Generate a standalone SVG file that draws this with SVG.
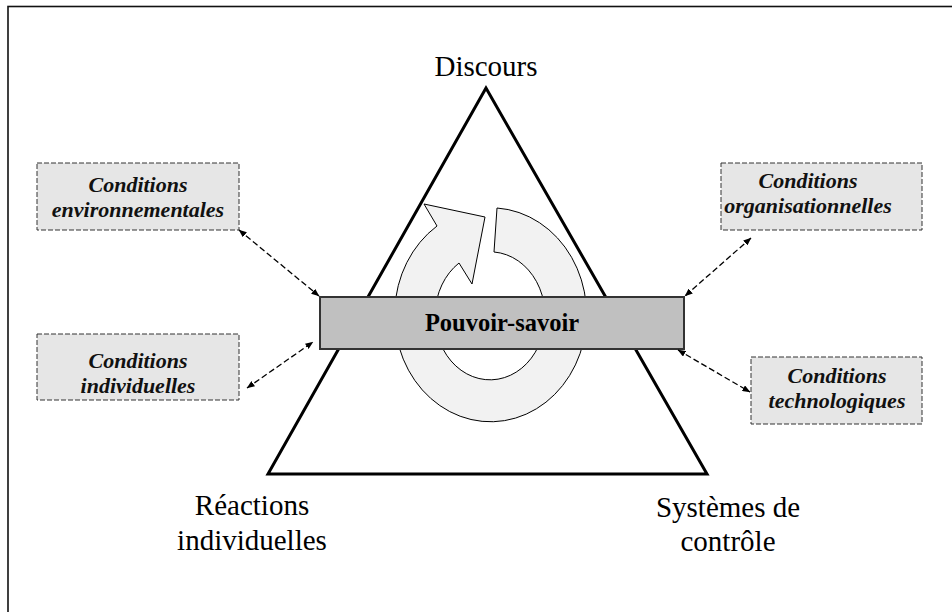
<svg xmlns="http://www.w3.org/2000/svg" width="952" height="612" viewBox="0 0 952 612">
<defs>
<style>
.lbl{font-family:"Liberation Serif","Times New Roman",serif;font-size:29px;fill:#000;text-anchor:middle}
.cond{font-family:"Liberation Serif","Times New Roman",serif;font-size:22px;font-weight:bold;font-style:italic;fill:#111;text-anchor:middle}
.cbox{fill:#e6e6e6;stroke:#333;stroke-width:1;stroke-dasharray:5 2}
.conn{fill:none;stroke:#000;stroke-width:1.3;stroke-dasharray:6 3;marker-start:url(#ah);marker-end:url(#ah)}
</style>
<marker id="ah" viewBox="0 0 10 8" refX="9.5" refY="4" markerWidth="8" markerHeight="6.4" markerUnits="userSpaceOnUse" orient="auto-start-reverse">
<path d="M0,0 L10,4 L0,8 Z" fill="#000"/>
</marker>
</defs>
<rect width="952" height="612" fill="#fff"/>
<rect x="8" y="6.5" width="1000" height="1000" fill="none" stroke="#111" stroke-width="1.6"/>

<g id="cycle">
<path d="M497,208 A96,107 0 1 1 437,226 L424,204 L485,217 L472,284 L459,263 A55,64 0 1 0 494,252 Z" fill="#f2f2f2" stroke="#000" stroke-width="1"/>
</g>

<g id="triangle">
<polygon points="486,88 268,474 707,474" fill="none" stroke="#000" stroke-width="3" stroke-linejoin="miter"/>
</g>

<g id="discours"><text class="lbl" x="486" y="76">Discours</text></g>
<g id="reactions"><text class="lbl" x="252" y="515">Réactions</text><text class="lbl" x="252" y="550">individuelles</text></g>
<g id="systemes"><text class="lbl" x="728" y="517">Systèmes de</text><text class="lbl" x="728" y="551">contrôle</text></g>

<g id="pouvoir">
<rect x="320" y="297" width="364" height="52" fill="#c0c0c0" stroke="#333" stroke-width="2"/>
<text x="502" y="331" font-family="Liberation Serif, Times New Roman, serif" font-size="24.5" font-weight="bold" text-anchor="middle" fill="#000">Pouvoir-savoir</text>
</g>

<g id="env">
<rect class="cbox" x="37" y="163" width="202" height="67"/>
<text class="cond" x="138" y="192">Conditions</text>
<text class="cond" x="138" y="217">environnementales</text>
</g>
<g id="indiv">
<rect class="cbox" x="37" y="334" width="202" height="66"/>
<text class="cond" x="138" y="368">Conditions</text>
<text class="cond" x="138" y="393">individuelles</text>
</g>
<g id="org">
<rect class="cbox" x="721" y="163" width="201" height="67"/>
<text class="cond" x="808" y="188">Conditions</text>
<text class="cond" x="808" y="213">organisationnelles</text>
</g>
<g id="tech">
<rect class="cbox" x="751" y="357" width="171" height="67"/>
<text class="cond" x="837" y="383">Conditions</text>
<text class="cond" x="837" y="408">technologiques</text>
</g>

<g id="connectors">
<line class="conn" x1="239" y1="230" x2="319" y2="296"/>
<line class="conn" x1="247" y1="388" x2="313" y2="342"/>
<line class="conn" x1="751" y1="238" x2="685" y2="296"/>
<line class="conn" x1="678" y1="350" x2="750" y2="392"/>
</g>
</svg>
